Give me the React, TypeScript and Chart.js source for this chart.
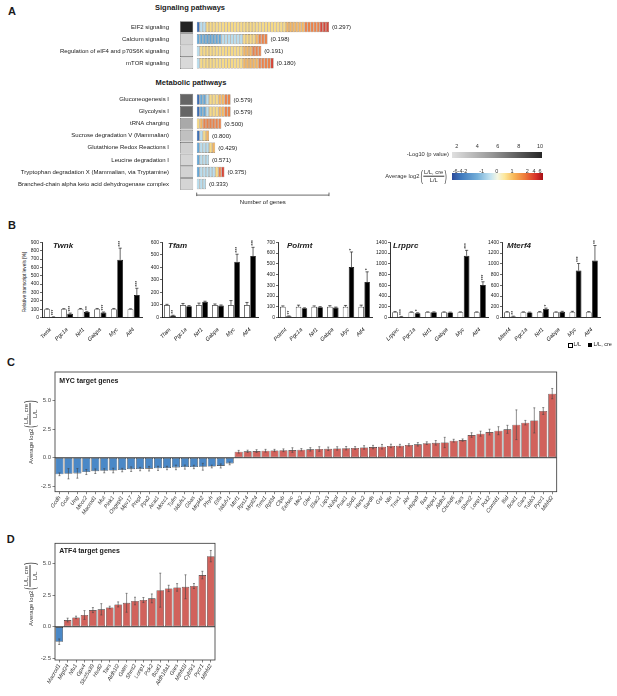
import React, { useEffect, useRef } from 'react';
import { Chart, registerables } from 'chart.js';

Chart.register(...registerables);

const FONT = "'Liberation Sans', Arial, Helvetica, sans-serif";
Chart.defaults.font.family = FONT;

// ---------------- Panel A data ----------------
const signalingPathways = ['EIF2 signaling', 'Calcium signaling', 'Regulation of eIF4 and p70S6K signaling', 'mTOR signaling'];
const signalingNegLog10P = [10, 2.5, 2.3, 2.2];
const signalingRatio = ['0.297', '0.198', '0.191', '0.180'];
const metabolicPathways = [
  'Gluconeogenesis I',
  'Glycolysis I',
  'tRNA charging',
  'Sucrose degradation V (Mammalian)',
  'Glutathione Redox Reactions I',
  'Leucine degradation I',
  'Tryptophan degradation X (Mammalian, via Tryptamine)',
  'Branched-chain alpha keto acid dehydrogenase complex',
];
const metabolicNegLog10P = [7.2, 7.2, 4.3, 3.3, 2.6, 2.4, 2.5, 2.4];
const metabolicRatio = ['0.579', '0.579', '0.500', '0.800', '0.429', '0.571', '0.375', '0.333'];
// genes per log2 bin: <=-2, -1, -0.5, 0.5, 1, 2, >=4
const log2BinColors = ['#3c6fb4', '#64a6d6', '#b6dcee', '#f6d983', '#f2b562', '#e8834c', '#d4473a'];
const signalingBinCounts = [
  [1, 0, 2, 26, 6, 5, 3],
  [0, 8, 7, 4, 1, 3, 0],
  [0, 0, 1, 14, 3, 3, 0],
  [0, 0, 1, 14, 5, 4, 1],
];
const metabolicBinCounts = [
  [1, 2, 1, 3, 2, 2, 0],
  [1, 2, 1, 3, 2, 2, 0],
  [0, 0, 0, 1, 1, 6, 0],
  [1, 0, 1, 1, 1, 0, 0],
  [0, 1, 3, 1, 1, 0, 0],
  [0, 1, 3, 0, 0, 0, 0],
  [0, 1, 5, 1, 0, 1, 1],
  [0, 0, 3, 0, 0, 0, 0],
];
const genesAxisMax = 43;

// ---------------- Panel B data ----------------
const bTargets = ['Pgc1a', 'Nrf1', 'Gabpa', 'Myc', 'Atf4'];
const twnkControl = [100, 100, 100, 100, 100, 100];
const twnkControlErr = [5, 6, 8, 8, 8, 4];
const twnkCre = [5, 45, 65, 60, 690, 270];
const twnkCreErr = [3, 8, 8, 6, 140, 80];
const twnkSig = ['***', '***', '**', '***', '***', '***'];

const tfamControl = [100, 100, 100, 100, 100, 100];
const tfamControlErr = [5, 12, 15, 8, 35, 20];
const tfamCre = [15, 90, 125, 95, 445, 490];
const tfamCreErr = [3, 5, 5, 5, 60, 70];
const tfamSig = ['**', '', '', '', '***', '***'];

const polrmtControl = [100, 100, 100, 100, 100, 100];
const polrmtControlErr = [8, 15, 8, 10, 12, 15];
const polrmtCre = [12, 85, 96, 92, 470, 330];
const polrmtCreErr = [3, 5, 5, 5, 140, 95];
const polrmtSig = ['**', '', '', '', '*', '*'];

const lrpprcControl = [100, 100, 100, 100, 100, 100];
const lrpprcControlErr = [10, 5, 5, 5, 5, 5];
const lrpprcCre = [15, 80, 100, 95, 1150, 605];
const lrpprcCreErr = [5, 8, 5, 5, 100, 60];
const lrpprcSig = ['***', '*', '', '', '***', '***'];

const mterf4Control = [100, 100, 100, 100, 100, 100];
const mterf4ControlErr = [10, 5, 10, 5, 15, 10];
const mterf4Cre = [20, 95, 160, 105, 875, 1060];
const mterf4CreErr = [5, 5, 15, 10, 130, 280];
const mterf4Sig = ['**', '', '*', '', '***', '**'];

// ---------------- Panel C data ----------------
const mycGenes = ['Gcdh', 'Gcat', 'Ung', 'Mccc2', 'Macrod1', 'Mut', 'Pink1', 'Osgepl1', 'Mpv17', 'Prepl', 'Ppa2', 'Acat1', 'Mccc1', 'Tufm', 'Ndufs1', 'Gbas', 'Mrpl42', 'Phyh', 'Etfa', 'Ndufv1', 'Mtrf1', 'Rps14', 'Mrpl24', 'Trmt1', 'Rpl34', 'Clpb', 'Eefsec', 'Me2', 'Gfer', 'Elac2', 'Lap3', 'Nubpl', 'Psat1', 'Sod1', 'Hars2', 'Sardh', 'Gsr', 'Nln', 'Tmx1', 'Ahr', 'Hspa9', 'Bax', 'Hspe1', 'Aldh2', 'Chchd6', 'Tars', 'Shmt2', 'Lonp1', 'Pck2', 'Comtd1', 'Bid', 'Bcat1', 'Gars', 'Tubb3', 'Pycr1', 'Mthfd2'];
const mycLog2 = [-1.45, -1.4, -1.37, -1.25, -1.18, -1.14, -1.12, -1.08, -1.0, -0.99, -0.96, -0.93, -0.9, -0.85, -0.82, -0.81, -0.79, -0.77, -0.72, -0.5, 0.52, 0.56, 0.58, 0.61, 0.63, 0.65, 0.67, 0.7, 0.73, 0.76, 0.78, 0.81, 0.83, 0.85, 0.9, 0.93, 0.96, 1.03, 1.05, 1.12, 1.17, 1.27, 1.3, 1.33, 1.49, 1.54, 1.98, 2.1, 2.24, 2.36, 2.48, 2.88, 3.06, 3.26, 4.08, 5.6];
const mycErr = [0.12, 0.45, 0.42, 0.22, 0.2, 0.18, 0.2, 0.15, 0.2, 0.15, 0.2, 0.18, 0.15, 0.2, 0.18, 0.15, 0.3, 0.12, 0.18, 0.12, 0.12, 0.1, 0.12, 0.12, 0.1, 0.12, 0.2, 0.1, 0.15, 0.2, 0.15, 0.15, 0.15, 0.12, 0.15, 0.15, 0.2, 0.15, 0.12, 0.1, 0.15, 0.12, 0.2, 0.45, 0.12, 0.1, 0.2, 0.22, 0.25, 0.35, 0.35, 1.3, 0.2, 1.1, 0.3, 0.45];

// ---------------- Panel D data ----------------
const atf4Genes = ['Macrod1', 'Mrpl24', 'Nfu1', 'Gpx4', 'Slc25a39', 'Hsdl2', 'Tars', 'Aldh1l2', 'Gatm', 'Shmt2', 'Lonp1', 'Pck2', 'Bcat1', 'Aldh18a1', 'Gars', 'Mthfd1l', 'Cyb5r1', 'Pycr1', 'Mthfd2'];
const atf4Log2 = [-1.19, 0.53, 0.74, 0.93, 1.32, 1.38, 1.53, 1.77, 1.9, 2.04, 2.12, 2.25, 2.9, 3.04, 3.12, 3.17, 3.23, 4.1, 5.6];
const atf4Err = [0.22, 0.15, 0.1, 0.35, 0.2, 0.45, 0.1, 0.2, 0.75, 0.3, 0.2, 0.35, 1.35, 0.25, 0.3, 0.95, 0.2, 0.3, 0.45];

const log2Ticks = [-2.5, 0, 2.5, 5];
const BLUE = '#4a88c7';
const RED = '#d1625c';

// ---------------- helpers ----------------
type Box = { x0: number; x1: number; y0: number; y1: number; yw: number; xh: number; eL?: number; eR?: number; eT?: number; eB?: number };
function place(b: Box) {
  const eL = b.eL ?? 0, eR = b.eR ?? 4, eT = b.eT ?? 8, eB = b.eB ?? 4;
  const L = Math.floor(b.x0 - b.yw - eL);
  const R = Math.ceil(b.x1 + eR);
  const T = Math.floor(b.y0 - eT);
  const B = Math.ceil(b.y1 + b.xh + eB);
  return {
    L, T, W: R - L, H: B - T,
    padding: { left: b.x0 - b.yw - L, right: R - b.x1, top: b.y0 - T, bottom: B - b.y1 - b.xh },
  };
}

function ChartBox({ box, make }: { box: Box; make: (padding: any) => any }) {
  const ref = useRef<HTMLCanvasElement>(null);
  const p = place(box);
  useEffect(() => {
    const chart = new Chart(ref.current as HTMLCanvasElement, make(p.padding));
    return () => chart.destroy();
  }, []);
  return (
    <canvas ref={ref} width={p.W} height={p.H}
      style={{ position: 'absolute', left: p.L, top: p.T, width: p.W, height: p.H }} />
  );
}

const baseOptions = (padding: any) => ({
  animation: false,
  responsive: false,
  events: [],
  layout: { padding },
  plugins: { legend: { display: false }, tooltip: { enabled: false } },
});

const errPlugin = {
  id: 'errbars',
  afterDatasetsDraw(chart: any) {
    const ctx = chart.ctx;
    const ys = chart.scales.y;
    chart.data.datasets.forEach((ds: any, di: number) => {
      if (!ds.errors) return;
      const meta = chart.getDatasetMeta(di);
      meta.data.forEach((bar: any, i: number) => {
        const v = ds.data[i];
        const e = ds.errors[i];
        if (v == null) return;
        const x = bar.x;
        const yv = ys.getPixelForValue(v);
        const yHi = ys.getPixelForValue(v + e);
        const yLo = ds.errMode === 'both' ? ys.getPixelForValue(v - e) : yv;
        const c = ds.capW ?? 1.5;
        ctx.save();
        ctx.strokeStyle = ds.errColor || '#000';
        ctx.lineWidth = ds.errWidth || 0.6;
        ctx.beginPath();
        ctx.moveTo(x, yLo); ctx.lineTo(x, yHi);
        ctx.moveTo(x - c, yHi); ctx.lineTo(x + c, yHi);
        if (ds.errMode === 'both') { ctx.moveTo(x - c, yLo); ctx.lineTo(x + c, yLo); }
        ctx.stroke();
        if (ds.sig && ds.sig[i]) {
          ctx.translate(x, Math.min(yHi, yv) - 1.5);
          ctx.rotate(-Math.PI / 2);
          ctx.font = `5px ${FONT}`;
          ctx.fillStyle = '#000';
          ctx.textAlign = 'left';
          ctx.textBaseline = 'middle';
          ctx.fillText(ds.sig[i], 0, 0.5);
        }
        ctx.restore();
      });
    });
  },
};

const framePlugin = {
  id: 'frame',
  afterDraw(chart: any) {
    const { ctx, chartArea: a } = chart;
    const y0 = chart.scales.y.getPixelForValue(0);
    ctx.save();
    ctx.strokeStyle = '#111';
    ctx.lineWidth = 0.8;
    ctx.beginPath();
    ctx.moveTo(a.left, y0); ctx.lineTo(a.right, y0);
    ctx.stroke();
    ctx.strokeStyle = '#333';
    ctx.strokeRect(a.left, a.top, a.right - a.left, a.bottom - a.top);
    ctx.restore();
  },
};

// ---------------- Panel A ----------------
type Row = { name: string; p: number; ratio: string; colors: string[] } | null;
const expand = (counts: number[]) => counts.flatMap((c, b) => Array(c).fill(log2BinColors[b]));
const rowsA: Row[] = [
  ...signalingPathways.map((name, i) => ({ name, p: signalingNegLog10P[i], ratio: signalingRatio[i], colors: expand(signalingBinCounts[i]) })),
  null,
  null,
  ...metabolicPathways.map((name, i) => ({ name, p: metabolicNegLog10P[i], ratio: metabolicRatio[i], colors: expand(metabolicBinCounts[i]) })),
];
const grayFor = (p: number | null) => {
  if (p == null) return 'transparent';
  const t = Math.min(1, Math.max(0, (p - 2) / 8));
  const g = Math.round(222 - t * 186);
  return `rgb(${g},${g},${g})`;
};
const A_TOP = 20.96;
const A_BOT = 190.1;

function PanelALabels() {
  return (
    <ChartBox
      box={{ x0: 180, x1: 193.3, y0: A_TOP, y1: A_BOT, yw: 180, xh: 0, eR: 1, eT: 8, eB: 8 }}
      make={(padding) => ({
        type: 'bar',
        data: {
          labels: rowsA.map((r) => (r ? r.name : '')),
          datasets: [{
            data: rowsA.map((r) => (r ? 1 : null)),
            backgroundColor: rowsA.map((r) => grayFor(r ? r.p : null)),
            borderColor: '#555',
            borderWidth: 0.6,
            borderSkipped: false,
            barPercentage: 0.95,
            categoryPercentage: 1,
          }],
        },
        options: {
          ...baseOptions(padding),
          indexAxis: 'y',
          scales: {
            x: { display: false, min: 0, max: 1 },
            y: {
              afterFit: (s: any) => { s.width = 180; },
              grid: { display: false },
              border: { display: false },
              ticks: { font: { size: 6 }, color: '#1a1a1a', padding: 3, autoSkip: false },
            },
          },
        },
      })}
    />
  );
}

function PanelAGenes() {
  const maxSeg = Math.max(...rowsA.map((r) => (r ? r.colors.length : 0)));
  const datasets = Array.from({ length: maxSeg }, (_, i) => ({
    data: rowsA.map((r) => (r && i < r.colors.length ? 1 : null)),
    backgroundColor: rowsA.map((r) => (r && i < r.colors.length ? r.colors[i] : 'transparent')),
    borderColor: '#6d5a48',
    borderWidth: 0.5,
    borderSkipped: false,
    barPercentage: 0.86,
    categoryPercentage: 1,
  }));
  const deco = {
    id: 'aDeco',
    afterDatasetsDraw(chart: any) {
      const { ctx } = chart;
      const xs = chart.scales.x;
      const ys = chart.scales.y;
      ctx.save();
      ctx.font = `6px ${FONT}`;
      ctx.fillStyle = '#1a1a1a';
      ctx.textBaseline = 'middle';
      ctx.textAlign = 'left';
      rowsA.forEach((r, i) => {
        if (!r) return;
        const x = xs.getPixelForValue(r.colors.length) + 3;
        ctx.fillText(`(${r.ratio})`, x, ys.getPixelForValue(i) + 0.5);
      });
      const yA = chart.chartArea.bottom + 5;
      const x0 = xs.getPixelForValue(0);
      const x1 = xs.getPixelForValue(genesAxisMax);
      ctx.strokeStyle = '#444';
      ctx.lineWidth = 0.8;
      ctx.beginPath();
      ctx.moveTo(x0, yA); ctx.lineTo(x1, yA);
      ctx.moveTo(x0, yA - 2.5); ctx.lineTo(x0, yA + 1);
      ctx.moveTo(x1, yA - 2.5); ctx.lineTo(x1, yA + 1);
      ctx.stroke();
      ctx.textAlign = 'center';
      ctx.fillText('Number of genes', (x0 + x1) / 2, yA + 7.3);
      ctx.restore();
    },
  };
  return (
    <ChartBox
      box={{ x0: 196.7, x1: 329, y0: A_TOP, y1: A_BOT, yw: 0, xh: 16, eL: 10, eR: 38, eT: 8, eB: 2 }}
      make={(padding) => ({
        type: 'bar',
        data: { labels: rowsA.map((r) => (r ? r.name : '')), datasets },
        options: {
          ...baseOptions(padding),
          indexAxis: 'y',
          scales: {
            x: {
              stacked: true,
              min: 0,
              max: genesAxisMax,
              afterBuildTicks: (s: any) => { s.ticks = [{ value: 0 }, { value: genesAxisMax }]; },
              afterFit: (s: any) => { s.height = 16; },
              grid: { display: false },
              border: { display: false },
              ticks: { font: { size: 6 }, color: '#1a1a1a', padding: 9 },
            },
            y: { stacked: true, display: false },
          },
        },
        plugins: [deco],
      })}
    />
  );
}

// ---------------- Panel B ----------------
function PanelBChart(props: {
  title: string; ctrl: number[]; ctrlErr: number[]; cre: number[]; creErr: number[]; sig: string[];
  ymax: number; step: number; x0: number; x1: number;
}) {
  const ticks: { value: number }[] = [];
  for (let v = 0; v <= props.ymax + 1e-6; v += props.step) ticks.push({ value: v });
  return (
    <ChartBox
      box={{ x0: props.x0, x1: props.x1, y0: 242.3, y1: 317.5, yw: 25, xh: 24, eR: 3, eT: 6, eB: 2 }}
      make={(padding) => ({
        type: 'bar',
        data: {
          labels: [props.title, ...bTargets],
          datasets: [
            { label: 'L/L', data: props.ctrl, backgroundColor: '#fff', borderColor: '#000', borderWidth: 0.7, errors: props.ctrlErr, errMode: 'up', capW: 1.6 },
            { label: 'L/L, cre', data: props.cre, backgroundColor: '#000', borderColor: '#000', borderWidth: 0.7, errors: props.creErr, errMode: 'up', capW: 1.6, sig: props.sig },
          ],
        },
        options: {
          ...baseOptions(padding),
          datasets: { bar: { categoryPercentage: 0.76, barPercentage: 0.92 } },
          scales: {
            x: {
              afterFit: (s: any) => { s.height = 24; },
              grid: { display: false },
              border: { display: true, color: '#000', width: 0.8 },
              ticks: { font: { size: 5.5, style: 'italic' }, color: '#111', minRotation: 45, maxRotation: 45, padding: 1, autoSkip: false },
            },
            y: {
              min: 0,
              max: props.ymax,
              afterBuildTicks: (s: any) => { s.ticks = ticks.map((t) => ({ ...t })); },
              afterFit: (s: any) => { s.width = 25; },
              grid: { drawOnChartArea: false, drawTicks: true, tickLength: 2, color: '#000', lineWidth: 0.6 },
              border: { display: true, color: '#000', width: 0.8 },
              ticks: { font: { size: 5 }, color: '#222', padding: 1, autoSkip: false, callback: (v: any) => String(Math.round(Number(v))) },
            },
          },
        },
        plugins: [errPlugin],
      })}
    />
  );
}

// ---------------- Panel C / D ----------------
function Log2Chart(props: { genes: string[]; values: number[]; errs: number[]; box: Box; ymin: number; ymax: number; rot: number }) {
  return (
    <ChartBox
      box={props.box}
      make={(padding) => ({
        type: 'bar',
        data: {
          labels: props.genes,
          datasets: [{
            data: props.values,
            errors: props.errs,
            errMode: 'both',
            errColor: '#444',
            errWidth: 0.6,
            capW: 1,
            backgroundColor: props.values.map((v) => (v < 0 ? BLUE : RED)),
            borderColor: '#2b2b2b',
            borderWidth: 0.6,
            borderSkipped: false,
            categoryPercentage: 1,
            barPercentage: 0.9,
          }],
        },
        options: {
          ...baseOptions(padding),
          scales: {
            x: {
              afterFit: (s: any) => { s.height = props.box.xh; },
              grid: { offset: false, drawOnChartArea: false, drawTicks: true, tickLength: 2.5, color: '#333', lineWidth: 0.6 },
              border: { display: false },
              ticks: { font: { size: 5.5, style: 'italic' }, color: '#333', minRotation: props.rot, maxRotation: props.rot, padding: 0.5, autoSkip: false },
            },
            y: {
              min: props.ymin,
              max: props.ymax,
              afterBuildTicks: (s: any) => { s.ticks = log2Ticks.map((value) => ({ value })); },
              afterFit: (s: any) => { s.width = props.box.yw; },
              grid: { drawOnChartArea: false, drawTicks: true, tickLength: 2.5, color: '#333', lineWidth: 0.6 },
              border: { display: false },
              ticks: { font: { size: 6 }, color: '#4d4d4d', padding: 1.5, autoSkip: false, callback: (v: any) => Number(v).toFixed(1) },
            },
          },
        },
        plugins: [errPlugin, framePlugin],
      })}
    />
  );
}

// ---------------- text helpers ----------------
function Txt(props: { x: number; y: number; size: number; bold?: boolean; italic?: boolean; align?: 'left' | 'center' | 'right'; color?: string; children: React.ReactNode }) {
  const common: React.CSSProperties = {
    position: 'absolute', top: props.y, fontSize: props.size, fontWeight: props.bold ? 700 : 400,
    fontStyle: props.italic ? 'italic' : 'normal', lineHeight: 1, whiteSpace: 'nowrap', color: props.color || '#1a1a1a',
  };
  if (props.align === 'center') {
    return <div style={{ ...common, left: props.x - 100, width: 200, textAlign: 'center' }}>{props.children}</div>;
  }
  if (props.align === 'right') {
    return <div style={{ ...common, left: props.x - 200, width: 200, textAlign: 'right' }}>{props.children}</div>;
  }
  return <div style={{ ...common, left: props.x }}>{props.children}</div>;
}

function FracLabel(props: { x: number; y: number; size: number; rotate?: boolean; anchorRight?: boolean }) {
  const s = props.size;
  const paren: React.CSSProperties = { fontSize: s * 2.4, lineHeight: 1, display: 'inline-block', transform: 'scaleX(0.5)', fontWeight: 300, margin: '0 -1px' };
  const tf = props.rotate ? 'translate(-50%, -50%) rotate(-90deg)' : props.anchorRight ? 'translate(-100%, -50%)' : 'translate(-50%, -50%)';
  return (
    <div style={{ position: 'absolute', left: props.x, top: props.y, transform: tf, display: 'flex', alignItems: 'center', whiteSpace: 'nowrap', fontSize: s, lineHeight: 1, color: '#333' }}>
      <span style={{ marginRight: 1 }}>Average log2</span>
      <span style={paren}>(</span>
      <span style={{ display: 'inline-flex', flexDirection: 'column', alignItems: 'center' }}>
        <span style={{ borderBottom: '0.6px solid #333', padding: '0 1px 1px' }}>L/L, cre</span>
        <span style={{ paddingTop: 1 }}>L/L</span>
      </span>
      <span style={paren}>)</span>
    </div>
  );
}

const grayLegendTicks = [2, 4, 6, 8, 10];
const grayLegendTickX = [456.7, 477.3, 497.7, 518.7, 540];
const divLegendTicks = ['-6-4-2', '-1', '0', '1', '2', '4', '6'];
const divLegendTickX = [460, 481.7, 496.7, 512, 527.3, 534, 540];

export default function App() {
  return (
    <div style={{ position: 'fixed', left: 0, top: 0, width: 617, height: 696, background: '#fff', overflow: 'hidden', fontFamily: FONT, color: '#1a1a1a' }}>
      {/* Panel letters */}
      <Txt x={8} y={5.9} size={11} bold>A</Txt>
      <Txt x={8} y={220.2} size={11} bold>B</Txt>
      <Txt x={7} y={356.9} size={11} bold>C</Txt>
      <Txt x={6.7} y={533.5} size={11} bold>D</Txt>

      {/* Panel A */}
      <Txt x={190} y={4} size={7.5} bold align="center">Signaling pathways</Txt>
      <Txt x={191} y={79} size={7.5} bold align="center">Metabolic pathways</Txt>
      <PanelALabels />
      <PanelAGenes />

      {/* Panel A legend */}
      {grayLegendTicks.map((t, i) => (
        <Txt key={'g' + t} x={grayLegendTickX[i]} y={143.6} size={5.5} align="center" color="#333">{t}</Txt>
      ))}
      <Txt x={449} y={152.2} size={5.8} align="right" color="#333">-Log10 (p value)</Txt>
      <div style={{ position: 'absolute', left: 452, top: 151.7, width: 90, height: 6.6, background: 'linear-gradient(to right, rgb(224,224,224), rgb(150,150,150) 45%, rgb(38,38,38))' }} />
      {divLegendTicks.map((t, i) => (
        <Txt key={'d' + t} x={divLegendTickX[i]} y={168.6} size={5.5} align="center" color="#333">{t}</Txt>
      ))}
      <div style={{ position: 'absolute', left: 451.7, top: 173.3, width: 91.6, height: 6.7, background: 'linear-gradient(to right, #2b4a9a 0%, #3f79bd 10%, #74afd9 28%, #c2e2f0 42%, #f3f6e4 50%, #fde79a 58%, #f8b758 68%, #ee7a3a 80%, #d8332a 92%, #a50f15 100%)' }} />
      <FracLabel x={447} y={176.7} size={5.8} anchorRight />

      {/* Panel B */}
      <div style={{ position: 'absolute', left: 25, top: 282, transform: 'translate(-50%, -50%) rotate(-90deg)', fontSize: 4.8, lineHeight: 1, whiteSpace: 'nowrap', color: '#222' }}>
        Relative transcript levels [%]
      </div>
      <PanelBChart title="Twnk" ctrl={twnkControl} ctrlErr={twnkControlErr} cre={twnkCre} creErr={twnkCreErr} sig={twnkSig} ymax={900} step={100} x0={42} x1={142} />
      <PanelBChart title="Tfam" ctrl={tfamControl} ctrlErr={tfamControlErr} cre={tfamCre} creErr={tfamCreErr} sig={tfamSig} ymax={600} step={100} x0={162} x1={258} />
      <PanelBChart title="Polrmt" ctrl={polrmtControl} ctrlErr={polrmtControlErr} cre={polrmtCre} creErr={polrmtCreErr} sig={polrmtSig} ymax={700} step={100} x0={278} x1={372} />
      <PanelBChart title="Lrpprc" ctrl={lrpprcControl} ctrlErr={lrpprcControlErr} cre={lrpprcCre} creErr={lrpprcCreErr} sig={lrpprcSig} ymax={1400} step={200} x0={390} x1={488} />
      <PanelBChart title="Mterf4" ctrl={mterf4Control} ctrlErr={mterf4ControlErr} cre={mterf4Cre} creErr={mterf4CreErr} sig={mterf4Sig} ymax={1400} step={200} x0={502} x1={600} />
      <Txt x={53} y={242.2} size={8} bold italic>Twnk</Txt>
      <Txt x={168} y={242.2} size={8} bold italic>Tfam</Txt>
      <Txt x={287} y={242.2} size={8} bold italic>Polrmt</Txt>
      <Txt x={393} y={242.2} size={8} bold italic>Lrpprc</Txt>
      <Txt x={507} y={242.2} size={8} bold italic>Mterf4</Txt>
      <div style={{ position: 'absolute', left: 567.5, top: 342.8, width: 3.6, height: 3.6, border: '0.7px solid #000', background: '#fff' }} />
      <Txt x={573.5} y={342.3} size={5.5} color="#222">L/L</Txt>
      <div style={{ position: 'absolute', left: 587.5, top: 342.8, width: 4.4, height: 4.4, background: '#000' }} />
      <Txt x={593.5} y={342.3} size={5.5} color="#222">L/L, cre</Txt>

      {/* Panel C */}
      <Log2Chart genes={mycGenes} values={mycLog2} errs={mycErr} ymin={-2.97} ymax={7.49} rot={55}
        box={{ x0: 55, x1: 556.7, y0: 372, y1: 491.7, yw: 20, xh: 34, eR: 4, eT: 6, eB: 2 }} />
      <Txt x={59.3} y={377.4} size={7} bold>MYC target genes</Txt>
      <FracLabel x={30} y={431.7} size={6} rotate />

      {/* Panel D */}
      <Log2Chart genes={atf4Genes} values={atf4Log2} errs={atf4Err} ymin={-2.64} ymax={6.62} rot={60}
        box={{ x0: 55, x1: 215, y0: 543.3, y1: 660, yw: 20, xh: 34, eR: 4, eT: 6, eB: 1 }} />
      <Txt x={59.3} y={547.4} size={7} bold>ATF4 target genes</Txt>
      <FracLabel x={30} y={594} size={6} rotate />
    </div>
  );
}
